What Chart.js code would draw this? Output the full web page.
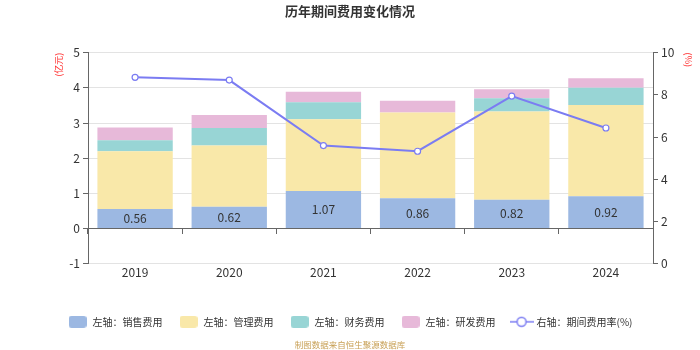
<!DOCTYPE html>
<html>
<head>
<meta charset="utf-8">
<script src="https://cdn.jsdelivr.net/npm/chart.js@4/dist/chart.umd.min.js"></script>
<style>
    html, body { margin: 0; padding: 0; background: #fff; }
    #wrap { width: 700px; height: 350px; }
</style>
</head>
<body>
<div id="wrap"><canvas id="expenseChart" width="700" height="350"></canvas></div>
<script>
// Period expenses by year (亿元) and expense ratio (%)
const years = ['2019', '2020', '2021', '2022', '2023', '2024'];
const salesExpense = [0.56, 0.62, 1.07, 0.86, 0.82, 0.92];
const adminExpense = [1.64, 1.74, 2.04, 2.44, 2.51, 2.59];
const financeExpense = [0.31, 0.50, 0.48, 0.00, 0.37, 0.49];
const rdExpense = [0.36, 0.37, 0.30, 0.33, 0.26, 0.27];
const expenseRate = [8.83, 8.70, 5.60, 5.33, 7.94, 6.43];
const leftTicks = [-1, 0, 1, 2, 3, 4, 5];
const rightTicks = [0, 2, 4, 6, 8, 10];

const FONT = "'Noto Sans CJK SC', 'Noto Sans', sans-serif";
const AXIS_DARK = '#666';
const GRID_LIGHT = '#e3e3e3';
const LINE_COLOR = '#7b7cf2';

Chart.defaults.font.family = FONT;
Chart.defaults.color = '#333';

// small canvases used as legend icons
function swatch(color) {
    const c = document.createElement('canvas');
    c.width = 18; c.height = 12;
    const g = c.getContext('2d');
    g.fillStyle = color;
    g.beginPath();
    g.roundRect(0, 0, 18, 12, 3);
    g.fill();
    return c;
}
function lineIcon(color) {
    const c = document.createElement('canvas');
    c.width = 24; c.height = 12;
    const g = c.getContext('2d');
    g.strokeStyle = color;
    g.lineWidth = 1.5;
    g.beginPath();
    g.moveTo(0, 6); g.lineTo(24, 6);
    g.stroke();
    g.fillStyle = '#fff';
    g.beginPath();
    g.arc(12, 6, 4.5, 0, Math.PI * 2);
    g.fill();
    g.stroke();
    return c;
}

// value labels centered in the sales segments
const barLabels = {
    id: 'barLabels',
    afterDatasetsDraw(chart) {
        const ctx = chart.ctx;
        const meta = chart.getDatasetMeta(0);
        ctx.save();
        ctx.font = '12px ' + FONT;
        ctx.fillStyle = '#333';
        ctx.textAlign = 'center';
        ctx.textBaseline = 'middle';
        meta.data.forEach((bar, i) => {
            ctx.fillText(salesExpense[i].toFixed(2), bar.x, (bar.y + bar.base) / 2);
        });
        ctx.restore();
    }
};

const barColors = ['#9cb8e2', '#f9e8a9', '#98d5d5', '#e7b9d9'];

const ctx = document.getElementById('expenseChart').getContext('2d');
new Chart(ctx, {
    type: 'bar',
    data: {
        labels: years,
        datasets: [{
            label: '左轴：销售费用',
            data: salesExpense,
            backgroundColor: barColors[0]
        }, {
            label: '左轴：管理费用',
            data: adminExpense,
            backgroundColor: barColors[1]
        }, {
            label: '左轴：财务费用',
            data: financeExpense,
            backgroundColor: barColors[2]
        }, {
            label: '左轴：研发费用',
            data: rdExpense,
            backgroundColor: barColors[3]
        }, {
            type: 'line',
            label: '右轴：期间费用率(%)',
            data: expenseRate,
            yAxisID: 'y1',
            order: -1,
            borderColor: LINE_COLOR,
            backgroundColor: '#fff',
            borderWidth: 2,
            pointRadius: 3,
            pointBorderWidth: 1.2,
            pointBackgroundColor: '#fff',
            pointBorderColor: LINE_COLOR,
            tension: 0
        }]
    },
    options: {
        responsive: false,
        animation: false,
        datasets: {
            bar: {
                categoryPercentage: 0.8,
                barPercentage: 1.0,
                borderWidth: 0
            }
        },
        layout: {
            padding: 0
        },
        scales: {
            x: {
                stacked: true,
                offset: true,
                border: { display: false },
                grid: { display: false, drawTicks: false },
                ticks: { padding: 1, font: { size: 12 }, color: '#333' },
                afterFit: (s) => { s.height = 37; }
            },
            // axis line with tick marks along the zero value
            xZero: {
                type: 'category',
                axis: 'x',
                position: { y: 0 },
                offset: true,
                labels: years,
                border: { display: true, color: AXIS_DARK },
                grid: { display: true, drawOnChartArea: false, offset: true, tickLength: 5, tickColor: AXIS_DARK },
                ticks: { display: false }
            },
            y: {
                stacked: true,
                position: 'left',
                min: -1,
                max: 5,
                afterBuildTicks: (s) => { s.ticks = leftTicks.map(v => ({ value: v })); },
                border: { display: true, color: AXIS_DARK },
                grid: {
                    color: (c) => (c.tick && c.tick.value === 0 ? AXIS_DARK : GRID_LIGHT),
                    tickColor: AXIS_DARK,
                    tickLength: 5
                },
                ticks: { padding: 3, font: { size: 12 }, color: '#333' },
                title: {
                    display: true,
                    text: '(亿元)',
                    align: 'end',
                    color: '#ff3030',
                    font: { size: 9 },
                    padding: { top: 53, bottom: 0 }
                },
                afterFit: (s) => { s.width = 88; }
            },
            y1: {
                position: 'right',
                min: 0,
                max: 10,
                afterBuildTicks: (s) => { s.ticks = rightTicks.map(v => ({ value: v })); },
                border: { display: true, color: AXIS_DARK },
                grid: { drawOnChartArea: false, tickColor: AXIS_DARK, tickLength: 5 },
                ticks: { padding: 3, font: { size: 12 }, color: '#333' },
                title: {
                    display: true,
                    text: '(%)',
                    align: 'end',
                    color: '#ff3030',
                    font: { size: 9 },
                    padding: { top: 6, bottom: 0 }
                },
                afterFit: (s) => { s.width = 47; }
            }
        },
        plugins: {
            title: {
                display: true,
                text: '历年期间费用变化情况',
                color: '#333',
                font: { size: 13, weight: 'bold' },
                padding: { top: 3, bottom: 34 }
            },
            legend: {
                display: true,
                position: 'bottom',
                labels: {
                    usePointStyle: true,
                    pointStyleWidth: 20,
                    boxHeight: 12,
                    padding: 16,
                    color: '#333',
                    font: { size: 10 },
                    generateLabels: (chart) => chart.data.datasets.map((ds, i) => ({
                        text: ds.label,
                        datasetIndex: i,
                        hidden: !chart.isDatasetVisible(i),
                        fontColor: '#333',
                        lineWidth: 0,
                        pointStyle: ds.type === 'line' ? lineIcon(LINE_COLOR) : swatch(barColors[i])
                    }))
                }
            },
            subtitle: {
                display: true,
                position: 'bottom',
                text: '制图数据来自恒生聚源数据库',
                color: '#c8a055',
                font: { size: 8.5 },
                padding: { top: 3, bottom: 0 }
            },
            tooltip: { enabled: false }
        }
    },
    plugins: [barLabels]
});
</script>
</body>
</html>
